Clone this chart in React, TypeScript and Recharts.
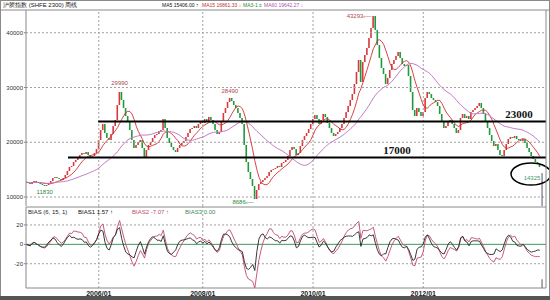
import React from 'react';
import { ComposedChart, Bar, Line, XAxis, YAxis, ReferenceLine, ReferenceDot } from 'recharts';

// bi-weekly closes of the SHFE rubber index
const closes: number[] = [
  12740, 12560, 12370, 12740, 12920, 12740, 12560, 12370, 12190, 12010, 12190, 12560, 12920, 13470, 13650, 13470, 13290, 13100, 13470, 14020,
  14750, 15480, 15660, 16390, 16760, 17120, 17670, 18030, 17850, 18220, 17670, 17300, 17490, 18030, 18760,
  20410, 22230, 23330, 21690, 20770, 20410, 21500, 22960, 24060, 26800, 29170, 27710, 26250, 24790, 23700, 22230, 20410, 18950, 19500, 20040,
  20410, 18950, 17300, 18580, 19500, 20040, 20770, 21320, 21500, 22050, 22230, 24240,
  22600, 20770, 19860, 19130, 18580, 18220, 18950, 19500, 19860, 20230, 20960, 21690, 22420, 22600, 22960, 22600, 23330, 23880, 23510, 24240,
  23880, 24610, 24060, 23330, 22230, 21500, 21870, 23700, 25340, 26250, 27350, 28080, 27530, 26800, 26250, 25340, 24430, 23330, 19500, 16390,
  14570, 13290, 12010, 9630,
  11280, 12370, 12740, 13100, 13470, 13830, 14570, 14930, 15110, 15300, 15660, 15480, 16210, 16390, 16760, 17490, 18580, 19130, 18760, 17670,
  18030, 19310, 20410, 21140, 21690, 22420, 23330, 24240, 24970, 24240, 23330, 24060, 25160, 24610, 23510, 22600, 21690, 21140, 21500, 21870,
  22600, 23330, 24430, 25520, 26620, 27710, 28810, 30630, 32830, 35020, 31000, 34650, 35930, 37210, 39030, 40860,
  43050, 40490, 37760, 35380, 33550, 32460, 30630, 31730, 33190, 34290, 35020, 35750, 36480, 35380, 34290, 33920, 34110, 32090, 29170, 25890,
  24790, 26250, 25520, 24790, 25520, 28080, 29170, 28810, 28080, 27710, 27350, 26620, 25160,
  23700, 22600, 22960, 23700, 24060, 23330, 22600, 21690, 22230, 24430, 25160, 24430, 24790, 24240, 25520, 25890, 26250, 26620, 27160, 26250,
  25160, 23700, 22600, 21320, 20230, 19310, 19680, 18580, 17670, 17490, 18580, 19680, 20590, 20960, 20770, 21140, 20590, 20410, 20230, 20590,
  19860, 18950, 18220, 17490, 16940, 16390, 16030, 15480,
];

const dateTickIdx = [35, 85, 138, 191];
const dateTickLabels = ['2006/01', '2008/01', '2010/01', '2012/01'];
const priceTicks = [10000, 20000, 30000, 40000];
const biasTicks = [-20, 20];

const supportLevels = [23790, 17210];
const supportStartIdx = [34.7, 20.2];
const supportLabels = ['23000', '17000'];
const supportLabelIdx = [237, 178.4];

const extremeIdx = [9, 45, 98, 110, 167];
const extremeValues = [11830, 29990, 28490, 8686, 43293];
const extremeTexts = ['11830', '29990', '28490', '8686\u2039\u2014', '43293\u2039\u2014'];

const lastLowIdx = 242.8;
const lastLowValue = 14200;
const lastLowText = '14325';

const MA_SHORT = 8; // ~15 weeks in bi-weekly bars
const MA_LONG = 30; // ~60 weeks
const BIAS_A = 5;
const BIAS_B = 9;

function sma(arr: number[], n: number, i: number) {
  const s = Math.max(0, i - n + 1);
  let sum = 0;
  for (let k = s; k <= i; k++) sum += arr[k];
  return sum / (i - s + 1);
}

const rows = closes.map((c, i) => {
  const o = i === 0 ? c : closes[i - 1];
  const mA = sma(closes, BIAS_A, i);
  const mB = sma(closes, BIAS_B, i);
  return {
    i,
    open: o,
    close: c,
    body: [Math.min(o, c), Math.max(o, c)] as [number, number],
    ma15: sma(closes, MA_SHORT, i),
    ma60: sma(closes, MA_LONG, i),
    bias1: ((c - mA) / mA) * 100,
    bias2: ((c - mB) / mB) * 100,
  };
});

const UP = '#d8383a';
const DOWN = '#1f9a3c';

const Candle = (props: any) => {
  const { x, y, width, height, payload } = props;
  if (x == null || y == null) return null;
  const up = payload.close >= payload.open;
  const h = Math.abs(height || 0);
  const top = height < 0 ? y + height : y;
  return <rect x={x} y={top} width={width} height={Math.max(h, 1)} fill={up ? UP : DOWN} />;
};

const font = 'Arial, "Liberation Sans", sans-serif';

const extremeStyle = [
  { dx: 0, dy: 7, anchor: 'middle', color: '#2f8a3a' },
  { dx: 0, dy: -3, anchor: 'middle', color: '#b04848' },
  { dx: 0, dy: -3, anchor: 'middle', color: '#b04848' },
  { dx: -1, dy: 0, anchor: 'end', color: '#2f8a3a' },
  { dx: -2, dy: 3.5, anchor: 'end', color: '#b04848' },
];

export default function App() {
  return (
    <div style={{ position: 'absolute', left: 0, top: 0, width: 550, height: 300, background: '#fff', overflow: 'hidden' }}>
      <div style={{ position: 'absolute', left: 0, top: 0 }}>
        <ComposedChart width={550} height={207} data={rows} margin={{ top: 10, right: 4, bottom: 1, left: 0 }}>
          <XAxis type="number" dataKey="i" domain={[0, 250]} hide allowDataOverflow />
          <YAxis
            type="number"
            domain={[8360, 44150]}
            ticks={priceTicks}
            interval={0}
            width={26}
            allowDataOverflow
            tick={{ fontSize: 6, fill: '#333', fontFamily: font }}
            tickSize={2}
            tickMargin={1}
            axisLine={{ stroke: '#888' }}
            tickLine={{ stroke: '#888' }}
          />
          {priceTicks.map((v) => (
            <ReferenceLine key={'h' + v} y={v} stroke="#a0a0a0" strokeDasharray="2 2" />
          ))}
          {dateTickIdx.map((v) => (
            <ReferenceLine key={'v' + v} x={v} stroke="#a0a0a0" strokeDasharray="2 2" />
          ))}
          <Bar dataKey="body" shape={<Candle />} barSize={1.6} isAnimationActive={false} />
          <Line dataKey="ma15" stroke="#d03030" strokeWidth={0.9} dot={false} isAnimationActive={false} />
          <Line dataKey="ma60" stroke="#c47ac4" strokeWidth={1} dot={false} isAnimationActive={false} />
          {supportLevels.map((lv, k) => (
            <ReferenceLine
              key={'s' + k}
              segment={[{ x: supportStartIdx[k], y: lv }, { x: 250, y: lv }]}
              stroke="#000"
              strokeWidth={2}
              ifOverflow="extendDomain"
            />
          ))}
          {supportLevels.map((lv, k) => (
            <ReferenceDot
              key={'sl' + k}
              x={supportLabelIdx[k]}
              y={lv}
              r={0}
              shape={(p: any) => (
                <text x={p.cx} y={p.cy - 3.5} textAnchor="middle" fontSize={11} fontWeight="bold" fontFamily='"Liberation Serif", "DejaVu Serif", serif' fill="#111">
                  {supportLabels[k]}
                </text>
              )}
            />
          ))}
          {extremeIdx.map((ix, k) => (
            <ReferenceDot
              key={'e' + k}
              x={ix}
              y={extremeValues[k]}
              r={0}
              shape={(p: any) => (
                <text
                  x={p.cx + extremeStyle[k].dx}
                  y={p.cy + extremeStyle[k].dy}
                  textAnchor={extremeStyle[k].anchor as any}
                  fontSize={6}
                  fontFamily={font}
                  fill={extremeStyle[k].color}
                >
                  {extremeTexts[k]}
                </text>
              )}
            />
          ))}
          <ReferenceLine segment={[{ x: 248.1, y: 14380 }, { x: 248.1, y: 8360 }]} stroke="#556" strokeWidth={1} />
          <ReferenceDot
            x={lastLowIdx}
            y={lastLowValue}
            r={0}
            shape={(p: any) => (
              <g>
                <ellipse cx={p.cx} cy={p.cy} rx={20} ry={11} fill="none" stroke="#000" strokeWidth={1.5} />
                <text x={p.cx + 1} y={p.cy + 6} textAnchor="middle" fontSize={6} fontFamily={font} fill="#3a9a6a">
                  {lastLowText}
                </text>
              </g>
            )}
          />
        </ComposedChart>
      </div>
      <div style={{ position: 'absolute', left: 0, top: 200 }}>
        <ComposedChart width={550} height={100} data={rows} margin={{ top: 7, right: 4, bottom: 0, left: 0 }}>
          <XAxis
            type="number"
            dataKey="i"
            domain={[0, 250]}
            ticks={dateTickIdx}
            interval={0}
            height={12}
            allowDataOverflow
            tickFormatter={(v: number) => dateTickLabels[dateTickIdx.indexOf(v)] || ''}
            tick={{ fontSize: 7, fill: '#222', fontWeight: 'bold', fontFamily: font }}
            tickLine={false}
            tickSize={0}
            tickMargin={3}
            axisLine={{ stroke: '#888' }}
          />
          <YAxis
            type="number"
            domain={[-45, 38.5]}
            ticks={[-20, 0, 20]}
            interval={0}
            width={26}
            allowDataOverflow
            tick={{ fontSize: 6, fill: '#333', fontFamily: font }}
            tickSize={2}
            tickMargin={1}
            axisLine={{ stroke: '#888' }}
            tickLine={{ stroke: '#888' }}
          />
          {biasTicks.map((v) => (
            <ReferenceLine key={'bh' + v} y={v} stroke="#a0a0a0" strokeDasharray="2 2" />
          ))}
          {dateTickIdx.map((v) => (
            <ReferenceLine key={'bv' + v} x={v} stroke="#a0a0a0" strokeDasharray="2 2" />
          ))}
          <ReferenceLine y={0} stroke="#3a9a5a" strokeWidth={1} />
          <Line dataKey="bias2" stroke="#c04a6a" strokeWidth={0.9} dot={false} isAnimationActive={false} />
          <Line dataKey="bias1" stroke="#222" strokeWidth={0.9} dot={false} isAnimationActive={false} />
          <ReferenceLine segment={[{ x: 248.1, y: -36 }, { x: 248.1, y: -45 }]} stroke="#556" strokeWidth={1} />
        </ComposedChart>
      </div>
      <svg width={550} height={300} style={{ position: 'absolute', left: 0, top: 0, pointerEvents: 'none' }}>
        <rect x={0.5} y={0.5} width={549} height={299} fill="none" stroke="#8a8a8a" />
        <line x1={0} y1={10} x2={550} y2={10} stroke="#8a8a8a" />
        <line x1={26} y1={207} x2={546} y2={207} stroke="#8a8a8a" />
        <line x1={546} y1={10} x2={546} y2={288} stroke="#8a8a8a" />
        <rect x={0} y={296} width={550} height={4} fill="#555" />
        <g fontFamily={font} fontSize={5}>
          <text x={3} y={7} fill="#111" fontSize={6}>沪胶指数 (SHFE 2300) 周线</text>
          <text x={162} y={7} fill="#111">MA5 15406.00 ↑</text>
          <text x={202} y={7} fill="#c03030">MA15 16861.33 ↓</text>
          <text x={243} y={7} fill="#2a8a3a">MA3-1 ≡</text>
          <text x={264} y={7} fill="#b050b0">MA60 19642.27 ↓</text>
          <text x={28} y={214} fill="#223" fontSize={6}>BIAS (6, 15, 1)</text>
          <text x={78} y={214} fill="#111" fontSize={6}>BIAS1  1.57 ↑</text>
          <text x={132} y={214} fill="#c04a6a" fontSize={6}>BIAS2  -7.07 ↑</text>
          <text x={185} y={214} fill="#3a8a5a" fontSize={6}>BIAS3  0.00</text>
        </g>
      </svg>
    </div>
  );
}
